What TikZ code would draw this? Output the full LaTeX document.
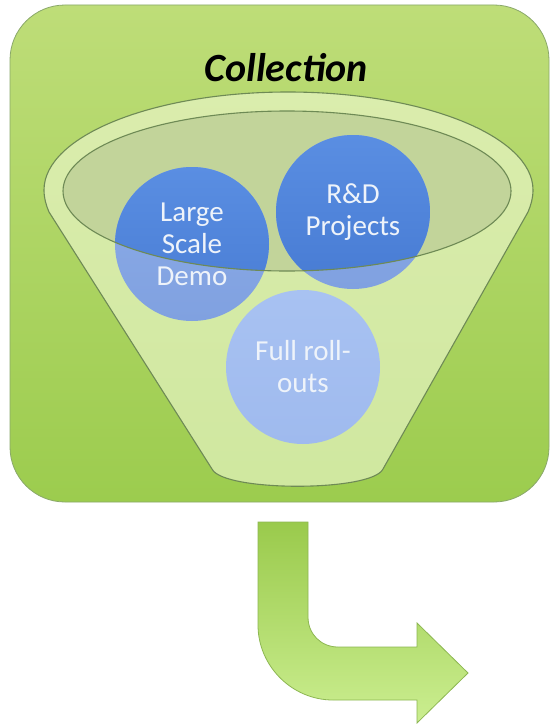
\documentclass[tikz,border=0pt]{standalone}
\usepackage{fontspec}
\setmainfont{Carlito}
\definecolor{boxtop}{HTML}{BEDD78}
\definecolor{boxbot}{HTML}{9CCC4E}
\definecolor{boxline}{HTML}{8AA86A}
\definecolor{conefill}{HTML}{F2FAD6}
\definecolor{ellfill}{HTML}{C2D49A}
\definecolor{funline}{HTML}{6E8A55}
\definecolor{balllight}{HTML}{8CACE8}
\definecolor{balllightb}{HTML}{80A1E0}
\definecolor{fulltop}{HTML}{A8C2F2}
\definecolor{fullbot}{HTML}{9FBAEE}
\definecolor{darktop}{HTML}{5A8EE2}
\definecolor{darkbot}{HTML}{477BD3}
\definecolor{balltext}{HTML}{EEF3FA}
\definecolor{arrtop}{HTML}{9ACA4C}
\definecolor{arrbot}{HTML}{CBEE90}
\definecolor{arrline}{HTML}{8DB752}
\tikzset{
  ball/.style={circle, minimum size=154pt, inner sep=0pt, top color=balllight, bottom color=balllightb},
  balltxt/.style={text=balltext, align=center, font=\fontsize{29}{32}\selectfont},
  outline/.style={draw=funline, line width=1.1pt},
}
\begin{document}
\begin{tikzpicture}[x=1pt,y=-1pt]
\useasboundingbox (0,0) rectangle (553,725);
\fill[white] (0,0) rectangle (553,725);
% green box
\draw[draw=boxline, line width=0.8pt, top color=boxtop, bottom color=boxbot, rounded corners=55pt] (10,5) rectangle (549,502);
% title
\node (title) at (286,68) {\fontsize{40}{44}\selectfont\bfseries\itshape Collection};
% funnel body
\fill[conefill, fill opacity=0.6]
  (44,190) .. controls (44,136) and (153,92) .. (288,92)
  .. controls (423,92) and (533,136) .. (533,190)
  .. controls (533,198) and (531,205) .. (528,212)
  -- (383,469) .. controls (372,492) and (223,492) .. (212,469)
  -- (49,212) .. controls (46,205) and (44,198) .. (44,190) -- cycle;
\fill[ellfill] (287,191) ellipse [x radius=224, y radius=80];
% circles
\node[ball] (lsd) at (192,244) {};
\node[ball] (rnd) at (353,212) {};
\node[ball, top color=fulltop, bottom color=fullbot] (full) at (303,367) {};
\begin{scope}
  \clip (287,191) ellipse [x radius=224, y radius=80];
  \shade[top color=darktop, bottom color=darkbot] (192,244) circle [radius=77];
  \shade[top color=darktop, bottom color=darkbot] (353,212) circle [radius=77];
\end{scope}
\node[balltxt] (lsdt) at (lsd) {Large\\Scale\\Demo};
\node[balltxt] (rndt) at (rnd) {R\&D\\Projects};
\node[balltxt] (fullt) at (full) {Full roll-\\outs};
% outlines
\draw[outline]
  (44,190) .. controls (44,136) and (153,92) .. (288,92)
  .. controls (423,92) and (533,136) .. (533,190)
  .. controls (533,198) and (531,205) .. (528,212)
  -- (383,469) .. controls (372,492) and (223,492) .. (212,469)
  -- (49,212) .. controls (46,205) and (44,198) .. (44,190) -- cycle;
\draw[outline] (287,191) ellipse [x radius=224, y radius=80];
% bent arrow
\draw[draw=arrline, line width=0.8pt, top color=arrtop, bottom color=arrbot]
  (258,522) -- (308,522) -- (308,617)
  .. controls (308,634) and (321,647) .. (338,647)
  -- (417,647) -- (417,623) -- (468,673) -- (417,723) -- (417,700) -- (333,700)
  .. controls (292,700) and (258,666) .. (258,625) -- cycle;
\end{tikzpicture}
\end{document}
